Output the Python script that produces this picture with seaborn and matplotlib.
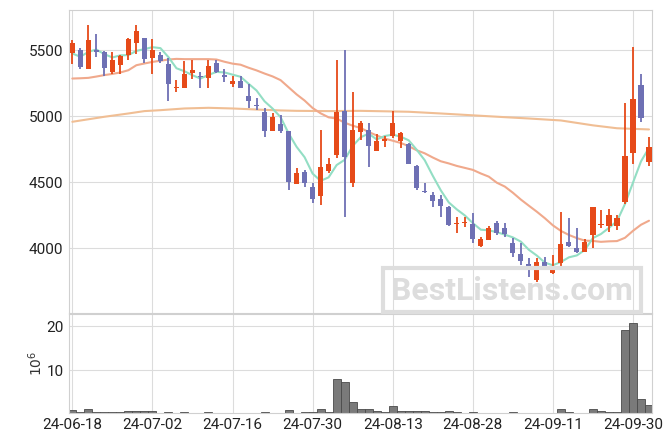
import numpy as np
import pandas as pd
import matplotlib
matplotlib.use("Agg")
import matplotlib.pyplot as plt
import seaborn as sns
from matplotlib.patches import Rectangle

# ---------------- data ----------------
tick_pos = [0, 10, 20, 30, 40, 50, 60, 70]
tick_labels = ["24-06-18", "24-07-02", "24-07-16", "24-07-30",
               "24-08-13", "24-08-28", "24-09-11", "24-09-30"]

opens = [5480, 5500, 5361, 5505, 5483, 5336, 5386, 5462, 5555, 5589,
         5437, 5462, 5394, 5210, 5214, 5328, 5303, 5291, 5399, 5313,
         5245, 5265, 5152, 5088, 5033, 4889, 4944, 4886, 4483, 4579,
         4464, 4397, 4586, 4705, 5038, 4490, 4881, 4894, 4737, 4808,
         4848, 4813, 4788, 4621, 4434, 4402, 4369, 4313, 4180, 4192,
         4182, 4015, 4061, 4187, 4155, 4036, 3955, 3879, 3758, 3892,
         3808, 3884, 4048, 4002, 3972, 4098, 4172, 4167, 4167, 4351,
         4722, 5235, 4654]
highs = [5576, 5513, 5689, 5619, 5490, 5487, 5462, 5593, 5689, 5589,
         5581, 5485, 5442, 5273, 5419, 5429, 5336, 5429, 5429, 5354,
         5303, 5303, 5240, 5139, 5063, 5020, 5005, 4886, 4604, 4591,
         4490, 4894, 4680, 5429, 5500, 5180, 4965, 4945, 4864, 4848,
         5038, 4881, 4798, 4630, 4490, 4427, 4402, 4320, 4237, 4237,
         4263, 4086, 4167, 4205, 4187, 4073, 4036, 3922, 3922, 3934,
         3947, 4271, 4225, 4149, 4066, 4313, 4288, 4293, 4250, 5096,
         5525, 5316, 4843]
lows = [5392, 5361, 5355, 5449, 5305, 5316, 5316, 5424, 5468, 5399,
        5323, 5399, 5114, 5180, 5214, 5278, 5210, 5210, 5328, 5260,
        5218, 5214, 5058, 5045, 4843, 4889, 4873, 4439, 4483, 4464,
        4339, 4326, 4566, 4680, 4237, 4464, 4818, 4616, 4737, 4768,
        4831, 4755, 4634, 4440, 4420, 4309, 4237, 4165, 4116, 4157,
        4040, 4010, 4061, 4098, 4086, 3934, 3871, 3778, 3745, 3835,
        3805, 3859, 4005, 3960, 3968, 3998, 4149, 4124, 4136, 4333,
        4636, 4957, 4621]
closes = [5551, 5373, 5576, 5483, 5367, 5424, 5455, 5583, 5644, 5432,
          5500, 5419, 5242, 5222, 5318, 5348, 5295, 5379, 5336, 5298,
          5265, 5214, 5116, 5078, 4889, 4990, 4889, 4502, 4566, 4495,
          4369, 4614, 4634, 5033, 4692, 4894, 4945, 4773, 4811, 4823,
          4945, 4869, 4634, 4452, 4427, 4358, 4318, 4174, 4187, 4199,
          4068, 4066, 4150, 4116, 4106, 3965, 3904, 3841, 3896, 3839,
          3864, 4030, 4017, 3970, 4048, 4313, 4182, 4250, 4225, 4697,
          5126, 4987, 4763]
volume_m = [0.96, 0.5, 1.25, 0.5, 0.5, 0.5, 0.5, 0.75, 0.75, 0.75,
            0.75, 0.3, 0.5, 0.3, 0.5, 0.3, 0.3, 0.5, 0.3, 0.3,
            0.3, 0.3, 0.3, 0.3, 0.5, 0.3, 0.3, 1.0, 0.3, 0.5,
            0.5, 1.25, 0.5, 8.0, 7.4, 2.7, 1.25, 1.25, 0.75, 0.5,
            1.85, 0.75, 0.75, 0.75, 0.75, 0.5, 0.5, 0.75, 0.5, 0.3,
            0.5, 0.3, 0.3, 0.3, 0.3, 0.5, 0.3, 0.3, 0.3, 0.3,
            0.3, 1.25, 0.5, 0.3, 0.3, 1.25, 0.75, 0.5, 0.5, 19.1,
            20.6, 3.5, 2.1]

# moving-average values before enough in-window data exists
ma5_head = [5475, 5450, 5487, 5505]
ma20_head = [5285, 5287, 5290, 5300, 5311, 5320, 5331, 5348, 5386, 5399,
             5411, 5420, 5429, 5434, 5432, 5432, 5432, 5432, 5429]
# long moving average, read at sampled positions
ma_long_idx = [0, 4, 7, 9, 11, 14, 17, 20, 23, 26, 28, 32, 36, 42, 46, 50,
               54, 57, 61, 65, 68, 72]
ma_long_val = [4957, 4995, 5020, 5038, 5045, 5058, 5063, 5058, 5050, 5043,
               5040, 5038, 5040, 5033, 5020, 5006, 4992, 4982, 4967, 4930,
               4908, 4899]

# ---------------- frame ----------------
n = len(closes)
df = pd.DataFrame({"i": np.arange(n), "open": opens, "high": highs,
                   "low": lows, "close": closes, "vol": volume_m})
roll5 = df["close"].rolling(5).mean().to_numpy()
roll20 = df["close"].rolling(20).mean().to_numpy()
roll5[:len(ma5_head)] = ma5_head
roll20[:len(ma20_head)] = ma20_head
df["ma5"] = roll5
df["ma20"] = roll20
long_df = pd.DataFrame({"i": ma_long_idx, "v": ma_long_val})

UP = "#E64A19"
DOWN = "#6E70B4"

sns.set_theme(style="whitegrid")
plt.rcParams["font.family"] = ["Roboto", "DejaVu Sans"]
plt.rcParams["axes.edgecolor"] = "#d0d0d0"
plt.rcParams["grid.color"] = "#dcdcdc"

fig = plt.figure(figsize=(6.71, 4.44), dpi=100)
ax = fig.add_axes([0.103, 0.295, 0.869, 0.682])
axv = fig.add_axes([0.103, 0.070, 0.869, 0.222], sharex=ax)

# moving averages
sns.lineplot(data=long_df, x="i", y="v", ax=ax, color="#F0BE94", lw=1.5, zorder=1)
sns.lineplot(data=df, x="i", y="ma20", ax=ax, color="#F0A98C", lw=1.5, zorder=1)
sns.lineplot(data=df, x="i", y="ma5", ax=ax, color="#93DEC4", lw=1.5, zorder=1)

# candles
up = df["close"] >= df["open"]
cols = np.where(up, UP, DOWN)
ax.vlines(df["i"], df["low"], df["high"], colors=cols, lw=1.3, zorder=2)
body_lo = np.minimum(df["open"], df["close"])
body_h = np.maximum(np.abs(df["close"] - df["open"]), 6)
ax.bar(df["i"], body_h, bottom=body_lo, width=0.64, color=cols,
       linewidth=0, zorder=3)

ax.set_ylim(3507, 5803)
ax.set_xlim(-0.4, 72.4)
ax.set_yticks([4000, 4500, 5000, 5500])
ax.set_xlabel("")
ax.set_ylabel("")
ax.tick_params(axis="x", labelbottom=False, length=0)
ax.tick_params(axis="y", labelsize=11, length=0, pad=4, colors="#222222")

# volume
axv.bar(df["i"], df["vol"], width=1.0, color="#7a7a7a",
        edgecolor="#4a4a4a", linewidth=0.6, zorder=2)
axv.set_ylim(0.3, 22.66)
axv.set_yticks([10, 20])
axv.set_xticks(tick_pos)
axv.set_xticklabels(tick_labels)
axv.tick_params(axis="both", labelsize=11, length=0, pad=4, colors="#222222")
axv.set_ylabel(r"$10^6$", fontsize=10, color="#333333", labelpad=1)
ax.set_xticks(tick_pos)

for a in (ax, axv):
    a.grid(True, color="#dcdcdc", lw=0.8)
    for s in a.spines.values():
        s.set_color("#d0d0d0")
        s.set_linewidth(0.8)

# watermark
fig.patches.append(Rectangle((383 / 671, 1 - 312 / 444), (641 - 383) / 671,
                             (312 - 268) / 444, transform=fig.transFigure,
                             fill=False, edgecolor="#dedede", lw=3, zorder=10))
fig.text(512 / 671, 1 - 291 / 444, "BestListens.com", ha="center", va="center",
         fontsize=23, fontweight="bold", color="#dddddd", zorder=11,
         family=["Roboto", "DejaVu Sans"])

fig.savefig("out.png", dpi=100)
